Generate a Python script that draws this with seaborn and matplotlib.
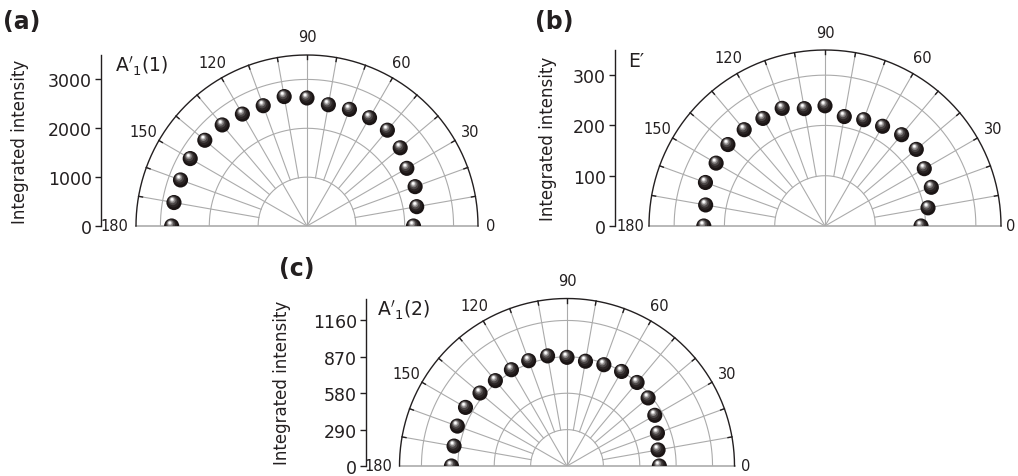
import numpy as np
import matplotlib
matplotlib.use("Agg")
import matplotlib.pyplot as plt
import matplotlib.transforms as mtransforms
import seaborn as sns

# ---------------- data ----------------
angles = [0, 10, 20, 30, 40, 50, 60, 70, 80, 90, 100, 110, 120, 130, 140, 150, 160, 170, 180]

intensity_a = [2180, 2280, 2355, 2360, 2490, 2560, 2560, 2540, 2520, 2620,
               2690, 2620, 2645, 2700, 2730, 2760, 2755, 2765, 2770]
intensity_b = [191, 208, 225, 228, 237, 237, 229, 225, 221, 239,
               237, 249, 247, 250, 252, 250, 253, 241, 241]
intensity_c = [736, 737, 767, 808, 844, 869, 870, 859, 848, 866,
               891, 893, 886, 888, 905, 934, 930, 914, 921]

yticks_a = [0, 1000, 2000, 3000]
yticks_b = [0, 100, 200, 300]
yticks_c = [0, 290, 580, 870, 1160]
rmax_a, rmax_b, rmax_c = 3500, 350, 1335

angle_labels = [0, 30, 60, 90, 120, 150, 180]
panel_letters = ["(a)", "(b)", "(c)"]
series_names = [r"$\mathrm{A}'_{1}\mathrm{(1)}$", "E\u2032", r"$\mathrm{A}'_{1}\mathrm{(2)}$"]
ylabel_text = "Integrated intensity"

# ---------------- style ----------------
plt.rcParams["font.family"] = ["DejaVu Sans"]
plt.rcParams["mathtext.fontset"] = "dejavusans"
TXT = "#231f20"
GRID = "#ababab"

W, H = 1018, 477
fig = plt.figure(figsize=(W / 100, H / 100), dpi=100)


def sphere(ax, x, y):
    layers = [(10.9, "#1a1414", 0.0, 0.0),
              (8.4, "#2a2424", -0.4, 0.7),
              (6.4, "#4b4646", -0.8, 1.3),
              (4.6, "#858181", -1.1, 1.8),
              (3.0, "#c8c6c6", -1.3, 2.1),
              (1.8, "#ffffff", -1.4, 2.3)]
    for d, c, dx, dy in layers:
        tr = mtransforms.offset_copy(ax.transData, fig=ax.figure, x=dx, y=dy, units="points")
        sns.scatterplot(x=x, y=y, ax=ax, s=d ** 2, color=c, edgecolor="none",
                        linewidth=0, transform=tr, legend=False, zorder=5)


def panel(cx, cy, rp, left_px, R, yticks, values, name, letter, letter_xy,
          name_frac, ylabel_px, side_gap):
    right_px = cx + rp
    rect = [left_px / W, (H - cy) / H, (right_px - left_px) / W, rp / H]
    ax = fig.add_axes(rect)
    s = R / rp  # data units per pixel
    ax.set_xlim(-(cx - left_px) * s, R)
    ax.set_ylim(0, R)

    th = np.radians(np.array(angles, dtype=float))
    vals = np.array(values, dtype=float)
    x = vals * np.cos(th)
    y = vals * np.sin(th)

    # grid circles
    t = np.linspace(0, np.pi, 400)
    for r in yticks[1:]:
        ax.plot(r * np.cos(t), r * np.sin(t), color=GRID, lw=0.8, zorder=1)
    ax.plot(R * np.cos(t), R * np.sin(t), color=TXT, lw=1.0, zorder=3, clip_on=False)
    # spokes
    r_in = yticks[1]
    for a in range(10, 180, 10):
        ar = np.radians(a)
        r0 = 0 if a % 30 == 0 else r_in
        ax.plot([r0 * np.cos(ar), R * np.cos(ar)], [r0 * np.sin(ar), R * np.sin(ar)],
                color=GRID, lw=0.8, zorder=1)
        # outer ticks (inward)
        r1 = R - 4 * s
        ax.plot([r1 * np.cos(ar), R * np.cos(ar)], [r1 * np.sin(ar), R * np.sin(ar)],
                color=TXT, lw=1.0, zorder=3)
    ax.plot([-R, R], [0, 0], color=GRID, lw=1.2, zorder=1, clip_on=False)

    # angle labels
    rl = R + 18 * s
    for a in angle_labels:
        ar = np.radians(a)
        if a == 0:
            ax.text(R + side_gap * s, 0, str(a), ha="left", va="center",
                    fontsize=10.5, color=TXT, clip_on=False)
        elif a == 180:
            ax.text(-R - side_gap * s, 0, str(a), ha="right", va="center",
                    fontsize=10.5, color=TXT, clip_on=False)
        else:
            ax.text(rl * np.cos(ar), rl * np.sin(ar), str(a), ha="center", va="center",
                    fontsize=10.5, color=TXT, clip_on=False)

    sphere(ax, x, y)

    # axis styling
    for sp in ["top", "right", "bottom"]:
        ax.spines[sp].set_visible(False)
    ax.spines["left"].set_color(TXT)
    ax.spines["left"].set_linewidth(1.0)
    ax.set_xticks([])
    ax.set_yticks(yticks)
    ax.set_yticklabels([str(v) for v in yticks])
    ax.tick_params(axis="y", direction="out", length=4.5, width=1.0, color=TXT,
                   labelsize=12.5, labelcolor=TXT, pad=2)
    ax.set_xlabel("")
    ax.set_ylabel(ylabel_text, fontsize=12, color=TXT)
    ax.yaxis.label.set_va("center")
    ax.yaxis.set_label_coords((ylabel_px - left_px) / (right_px - left_px), 0.5)
    ax.set_facecolor("none")

    ax.text(name_frac[0], name_frac[1], name, transform=ax.transAxes, ha="left",
            va="baseline", fontsize=13.5, color=TXT)
    fig.text(letter_xy[0] / W, 1 - letter_xy[1] / H, letter, ha="left", va="top",
             fontsize=17, fontweight="bold", color=TXT)
    return ax


panel(307, 227, 171, 101, rmax_a, yticks_a, intensity_a, series_names[0],
      panel_letters[0], (3, 10), (0.037, 0.906), 20, 8)
panel(825, 227, 176, 615, rmax_b, yticks_b, intensity_b, series_names[1],
      panel_letters[1], (535, 10), (0.034, 0.909), 548, 5)
panel(567, 467, 167.5, 366, rmax_c, yticks_c, intensity_c, series_names[2],
      panel_letters[2], (279, 257), (0.03, 0.90), 282, 7)

fig.savefig("out.png", dpi=100)
